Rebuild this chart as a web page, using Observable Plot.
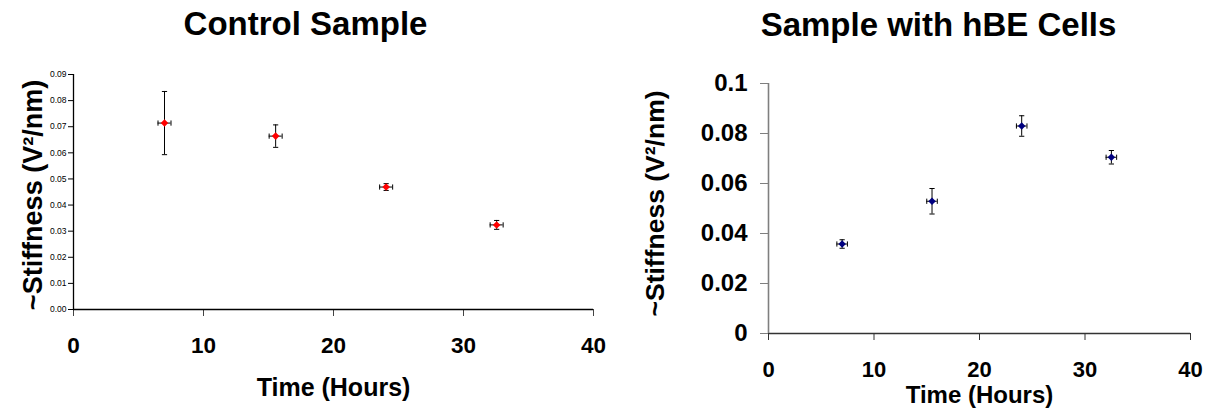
<!DOCTYPE html>
<html>
<head>
<meta charset="utf-8">
<script src="https://cdn.jsdelivr.net/npm/d3@7"></script>
<script src="https://cdn.jsdelivr.net/npm/@observablehq/plot@0.6"></script>
<style>
  html, body { margin: 0; padding: 0; background: #fff; }
  #wrap { position: relative; width: 1209px; height: 410px; overflow: hidden; }
  #left { position: absolute; left: 0; top: 0; }
  #right { position: absolute; left: 605px; top: 0; }
</style>
</head>
<body>
<div id="wrap"><div id="left"></div><div id="right"></div></div>
<script>
// ---- data ----
const xTicks = [0, 10, 20, 30, 40];
const xTickLabels = ["0", "10", "20", "30", "40"];

const controlTitle = "Control Sample";
const controlTime = [7.0, 15.55, 24.05, 32.55];
const controlTimeErr = [0.5, 0.5, 0.5, 0.5];
const controlStiffness = [0.0714, 0.0664, 0.0469, 0.0324];
const controlStiffErr = [0.0121, 0.0043, 0.0013, 0.0017];
const controlYTicks = [0, 0.01, 0.02, 0.03, 0.04, 0.05, 0.06, 0.07, 0.08, 0.09];
const controlYTickLabels = ["0.00", "0.01", "0.02", "0.03", "0.04", "0.05", "0.06", "0.07", "0.08", "0.09"];

const hbeTitle = "Sample with hBE Cells";
const hbeTime = [6.98, 15.5, 24.0, 32.5];
const hbeTimeErr = [0.5, 0.5, 0.5, 0.5];
const hbeStiffness = [0.0358, 0.0529, 0.0830, 0.0705];
const hbeStiffErr = [0.0017, 0.0051, 0.0041, 0.0027];
const hbeYTicks = [0, 0.02, 0.04, 0.06, 0.08, 0.1];
const hbeYTickLabels = ["0", "0.02", "0.04", "0.06", "0.08", "0.1"];

const xTitle = "Time (Hours)";
const yTitle = "~Stiffness (V²/nm)";

// ---- helpers ----
const font = "'Liberation Sans', Arial, Helvetica, sans-serif";
const hCap = { draw(ctx, size) { const r = Math.sqrt(size / Math.PI); ctx.moveTo(-r, 0); ctx.lineTo(r, 0); } };
const vCap = { draw(ctx, size) { const r = Math.sqrt(size / Math.PI); ctx.moveTo(0, -r); ctx.lineTo(0, r); } };

function rowsOf(t, te, v, ve) {
  return t.map((d, i) => ({ t: d, te: te[i], v: v[i], ve: ve[i] }));
}

function errorMarks(rows, color) {
  return [
    Plot.ruleX(rows, { x: "t", y1: d => d.v - d.ve, y2: d => d.v + d.ve, stroke: "#000", strokeWidth: 1 }),
    Plot.ruleY(rows, { y: "v", x1: d => d.t - d.te, x2: d => d.t + d.te, stroke: "#000", strokeWidth: 1 }),
    Plot.dot(rows, { x: "t", y: d => d.v + d.ve, symbol: hCap, r: 2.6, stroke: "#000", fill: "none", strokeWidth: 1 }),
    Plot.dot(rows, { x: "t", y: d => d.v - d.ve, symbol: hCap, r: 2.6, stroke: "#000", fill: "none", strokeWidth: 1 }),
    Plot.dot(rows, { x: d => d.t - d.te, y: "v", symbol: vCap, r: 2.6, stroke: "#000", fill: "none", strokeWidth: 1 }),
    Plot.dot(rows, { x: d => d.t + d.te, y: "v", symbol: vCap, r: 2.6, stroke: "#000", fill: "none", strokeWidth: 1 }),
    Plot.dot(rows, { x: "t", y: "v", symbol: "diamond2", r: 3.4, fill: color, stroke: "none" })
  ];
}

const xLabelMap = new Map(xTicks.map((d, i) => [d, xTickLabels[i]]));

// ---- left chart ----
const cRows = rowsOf(controlTime, controlTimeErr, controlStiffness, controlStiffErr);
const cLab = new Map(controlYTicks.map((d, i) => [d, controlYTickLabels[i]]));
const left = Plot.plot({
  width: 605, height: 410,
  marginLeft: 73, marginRight: 12, marginTop: 74, marginBottom: 101,
  x: { domain: [0, 40] },
  y: { domain: [0, 0.09] },
  style: { fontFamily: font, color: "#000", background: "transparent", overflow: "visible" },
  marks: [
    Plot.axisX({ ticks: xTicks, tickSize: 7, tickPadding: 21, fontSize: 22.5, fontWeight: "bold",
      tickFormat: d => xLabelMap.get(d), label: null, stroke: "#444", fill: "#000" }),
    Plot.axisY({ ticks: controlYTicks, tickSize: 5, tickPadding: 2, fontSize: 8.5,
      tickFormat: d => cLab.get(d), label: null, stroke: "#000", fill: "#000" }),
    Plot.ruleY([0], { stroke: "#000", strokeWidth: 1.3 }),
    Plot.ruleX([0], { stroke: "#000", strokeWidth: 1.3 }),
    ...errorMarks(cRows, "#ff0000"),
    Plot.text([controlTitle], { text: d => d, frameAnchor: "top", dx: -28, dy: -50, lineAnchor: "middle",
      textAnchor: "middle", fontSize: 33, fontWeight: "bold", fill: "#000" }),
    Plot.text([xTitle], { text: d => d, frameAnchor: "bottom", dy: 78, lineAnchor: "middle",
      textAnchor: "middle", fontSize: 25, fontWeight: "bold", fill: "#000" }),
    Plot.text([yTitle], { text: d => d, frameAnchor: "left", dx: -40, dy: 3, rotate: -90, lineAnchor: "middle",
      textAnchor: "middle", fontSize: 27, fontWeight: "bold", fill: "#000" })
  ]
});
document.getElementById("left").appendChild(left);

// ---- right chart ----
const hRows = rowsOf(hbeTime, hbeTimeErr, hbeStiffness, hbeStiffErr);
const hLab = new Map(hbeYTicks.map((d, i) => [d, hbeYTickLabels[i]]));
const right = Plot.plot({
  width: 604, height: 410,
  marginLeft: 163, marginRight: 19, marginTop: 83, marginBottom: 77,
  x: { domain: [0, 40] },
  y: { domain: [0, 0.1] },
  style: { fontFamily: font, color: "#000", background: "transparent", overflow: "visible" },
  marks: [
    Plot.axisX({ ticks: xTicks, tickSize: 7, tickPadding: 21, fontSize: 22, fontWeight: "bold",
      tickFormat: d => xLabelMap.get(d), label: null, stroke: "#333", fill: "#000" }),
    Plot.axisY({ ticks: hbeYTicks, tickSize: 8, tickPadding: 13, fontSize: 24, fontWeight: "bold",
      tickFormat: d => hLab.get(d), label: null, stroke: "#7f7f7f", fill: "#000" }),
    Plot.ruleY([0], { stroke: "#333", strokeWidth: 1.3 }),
    Plot.ruleX([0], { stroke: "#7f7f7f", strokeWidth: 1.6 }),
    ...errorMarks(hRows, "#000080"),
    Plot.text([hbeTitle], { text: d => d, frameAnchor: "top", dx: -41, dy: -58, lineAnchor: "middle",
      textAnchor: "middle", fontSize: 33, fontWeight: "bold", fill: "#000" }),
    Plot.text([xTitle], { text: d => d, frameAnchor: "bottom", dy: 62, lineAnchor: "middle",
      textAnchor: "middle", fontSize: 24, fontWeight: "bold", fill: "#000" }),
    Plot.text([yTitle], { text: d => d, frameAnchor: "left", dx: -113, dy: -5, rotate: -90, lineAnchor: "middle",
      textAnchor: "middle", fontSize: 26.5, fontWeight: "bold", fill: "#000" })
  ]
});
document.getElementById("right").appendChild(right);
</script>
</body>
</html>
